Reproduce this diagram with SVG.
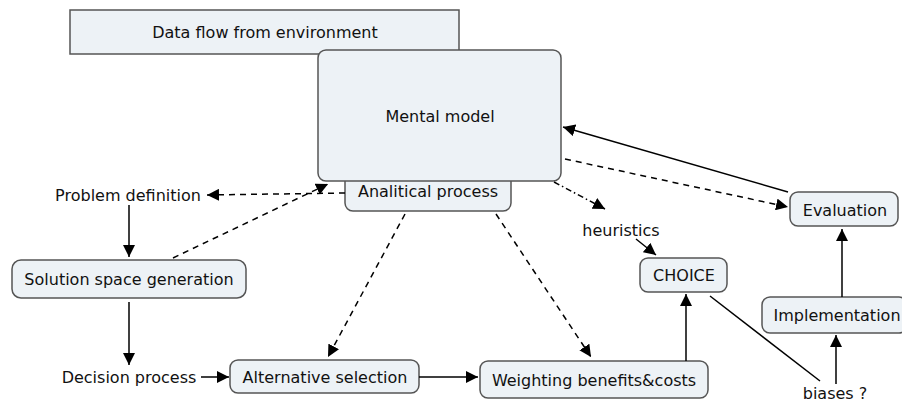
<svg xmlns="http://www.w3.org/2000/svg" width="902" height="403" viewBox="0 0 902 403">
<defs>
<marker id="ah" viewBox="0 0 12 12" refX="12" refY="6" markerWidth="12" markerHeight="12" markerUnits="userSpaceOnUse" orient="auto">
<path d="M0,0 L12,6 L0,12 z" fill="#000"/>
</marker>
<style>
.box{fill:#edf2f6;stroke:#555;stroke-width:1.5}
.t{font-family:"DejaVu Sans",Verdana,sans-serif;font-size:16px;fill:#111;text-anchor:middle;dominant-baseline:central}
.c{fill:none;stroke:#000;stroke-width:1.5}
.d{stroke-dasharray:6,5}
.dd{stroke-dasharray:6,3,1.5,3}
</style>
</defs>
<rect width="902" height="403" fill="#fff"/>
<g id="dataflow"><rect class="box" x="70" y="10" width="389" height="44"/><text class="t" x="265" y="32">Data flow from environment</text></g>
<g id="analitical"><rect class="box" x="345" y="168" width="166" height="43" rx="8"/><text class="t" x="428" y="191">Analitical process</text></g>
<g id="mental"><rect class="box" x="318" y="50" width="243" height="131" rx="8"/><text class="t" x="440" y="116">Mental model</text></g>
<g id="problem"><text class="t" x="128" y="195">Problem definition</text></g>
<g id="solution"><rect class="box" x="12" y="260" width="234" height="38" rx="9"/><text class="t" x="129" y="279">Solution space generation</text></g>
<g id="decision"><text class="t" x="129" y="377">Decision process</text></g>
<g id="alternative"><rect class="box" x="230" y="360" width="189" height="33" rx="8"/><text class="t" x="325" y="377">Alternative selection</text></g>
<g id="weighting"><rect class="box" x="480" y="361" width="228" height="37" rx="8"/><text class="t" x="594" y="380">Weighting benefits&amp;costs</text></g>
<g id="choice"><rect class="box" x="640" y="258" width="87" height="34" rx="8"/><text class="t" x="684" y="275">CHOICE</text></g>
<g id="heuristics"><text class="t" x="621" y="230">heuristics</text></g>
<g id="evaluation"><rect class="box" x="790" y="192" width="108" height="34" rx="8"/><text class="t" x="845" y="210">Evaluation</text></g>
<g id="implementation"><rect class="box" x="762" y="297" width="145" height="36" rx="8"/><text class="t" x="837" y="315">Implementation</text></g>
<g id="biases"><text class="t" x="835" y="393">biases ?</text></g>
<g id="connectors">
<path class="c d" d="M345,193 L207,195" marker-end="url(#ah)"/>
<path class="c d" d="M173,258 L328,184" marker-end="url(#ah)"/>
<path class="c" d="M129,205 L129,257" marker-end="url(#ah)"/>
<path class="c" d="M129,302 L129,365" marker-end="url(#ah)"/>
<path class="c" d="M201,377 L229,377" marker-end="url(#ah)"/>
<path class="c d" d="M405,214 L328,357" marker-end="url(#ah)"/>
<path class="c" d="M419,377 L478,377" marker-end="url(#ah)"/>
<path class="c d" d="M496,214 L591,357" marker-end="url(#ah)"/>
<path class="c" d="M686,361 L686,294" marker-end="url(#ah)"/>
<path class="c" d="M636,239 L656,255" marker-end="url(#ah)"/>
<path class="c dd" d="M554,182 L605,209" marker-end="url(#ah)"/>
<path class="c d" d="M565,159 L788,207" marker-end="url(#ah)"/>
<path class="c" d="M788,192 L563,127" marker-end="url(#ah)"/>
<path class="c" d="M842,297 L842,229" marker-end="url(#ah)"/>
<path class="c" d="M836,384 L836,335" marker-end="url(#ah)"/>
<path class="c" d="M710,296 L820,381"/>
</g>
</svg>
